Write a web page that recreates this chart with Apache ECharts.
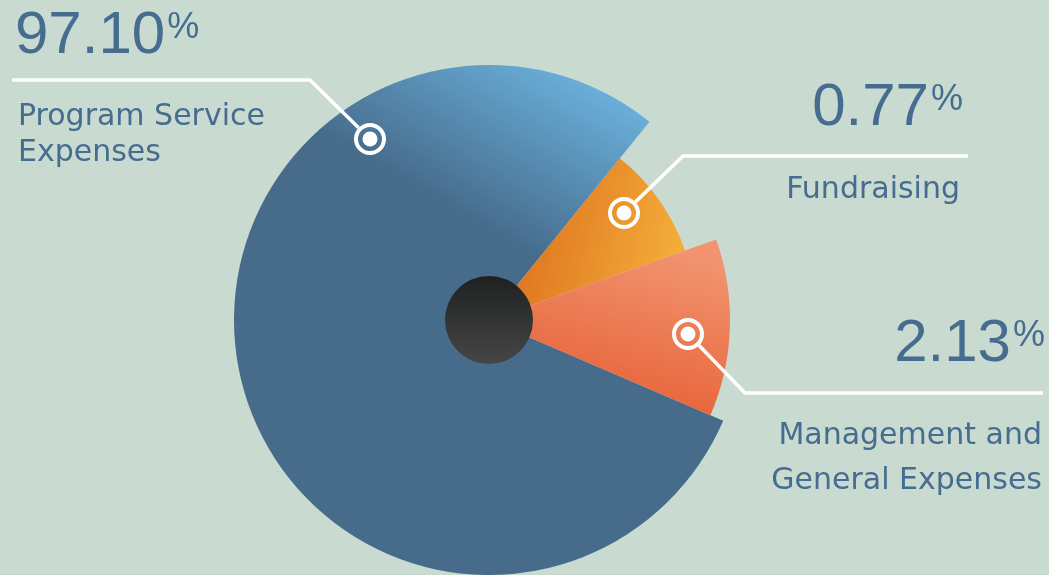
<!DOCTYPE html>
<html>
<head>
<meta charset="utf-8">
<script src="https://cdn.jsdelivr.net/npm/echarts@6/dist/echarts.min.js"></script>
<style>
  html, body { margin: 0; padding: 0; background: #c9dbd0; }
  #chart { width: 1049px; height: 575px; }
</style>
</head>
<body>
<div id="chart"></div>
<script>
// ---- data ----
const categories = ['Program Service Expenses', 'Fundraising', 'Management and General Expenses'];
const labelLines = [['Program Service', 'Expenses'], ['Fundraising'], ['Management and', 'General Expenses']];
const percentValues = [97.10, 0.77, 2.13];
// slice angles (degrees) as drawn in the source, which is not to scale
const drawnSweeps = [285.7, 31.5, 42.8];

// ---- layout / style (not data) ----
const CENTER = [489, 320];
const START_ANGLE = 51;
const drawOrder = [1, 2, 0];           // clockwise from START_ANGLE
const sliceRadius = [255, 208, 241];
const TEXT = '#466d8f';
const NUM_FONT = '60px "Liberation Sans", Arial, sans-serif';
const PCT_FONT = '36px "Liberation Sans", Arial, sans-serif';
const LABEL_FONT = '30px "DejaVu Sans", sans-serif';
const sliceColors = [
  new echarts.graphic.LinearGradient(440, 205, 545, 25, [
    { offset: 0, color: '#466b8b' }, { offset: 1, color: '#6fb9e6' }], true),
  new echarts.graphic.LinearGradient(0.15, 0.3, 1, 0.55, [
    { offset: 0, color: '#dd721f' }, { offset: 0.75, color: '#ef9f33' }, { offset: 1, color: '#f4ae3a' }]),
  new echarts.graphic.LinearGradient(0.6, 0, 0.4, 1, [
    { offset: 0, color: '#f1946f' }, { offset: 1, color: '#e65e33' }])
];
// pct: anchor x (left edge of number when align left, right edge of % sign when align right), digit centre y
const annot = [
  { pts: [[12, 80], [310, 80], [370, 139]], pct: { x: 15, y: 36, align: 'left' },
    label: { x: 18, y: 117, align: 'left', gap: 36 } },
  { pts: [[968, 156], [683, 156], [624, 213]], pct: { x: 963, y: 108, align: 'right' },
    label: { x: 960, y: 190, align: 'right', gap: 36 } },
  { pts: [[1043, 393], [745, 393], [688, 334]], pct: { x: 1045, y: 344, align: 'right' },
    label: { x: 1042, y: 436, align: 'right', gap: 45 } }
];

const measureCtx = document.createElement('canvas').getContext('2d');
function textWidth(t, font) { measureCtx.font = font; return measureCtx.measureText(t).width; }

const series = [0, 1, 2].map(k => ({
  type: 'pie',
  center: CENTER,
  radius: [0, sliceRadius[k]],
  startAngle: START_ANGLE,
  clockwise: true,
  silent: true,
  animation: false,
  label: { show: false },
  labelLine: { show: false },
  emphasis: { disabled: true },
  z: 2 + k,
  data: drawOrder.map(i => ({
    name: categories[i],
    value: drawnSweeps[i],
    itemStyle: { color: i === k ? sliceColors[k] : 'rgba(0,0,0,0)' }
  }))
}));

const graphics = [];
graphics.push({
  type: 'circle', z: 10, shape: { cx: CENTER[0], cy: CENTER[1], r: 44 },
  style: { fill: new echarts.graphic.LinearGradient(0, 0, 0, 1, [
    { offset: 0, color: '#1f2121' }, { offset: 1, color: '#464646' }]) }
});
annot.forEach((a, i) => {
  const pts = a.pts.map(p => p.slice());
  const m = pts[pts.length - 1];
  const prev = pts[pts.length - 2];
  const dx = m[0] - prev[0], dy = m[1] - prev[1];
  const len = Math.hypot(dx, dy);
  const ringR = 16;
  pts[pts.length - 1] = [m[0] - dx / len * ringR, m[1] - dy / len * ringR];
  graphics.push({ type: 'polyline', z: 20, shape: { points: pts },
    style: { stroke: '#ffffff', lineWidth: 3.5, fill: null } });
  graphics.push({ type: 'circle', z: 20, shape: { cx: m[0], cy: m[1], r: 14 },
    style: { fill: 'rgba(0,0,0,0)', stroke: '#ffffff', lineWidth: 4 } });
  graphics.push({ type: 'circle', z: 20, shape: { cx: m[0], cy: m[1], r: 7.5 },
    style: { fill: '#ffffff' } });

  const numText = percentValues[i].toFixed(2);
  const numW = textWidth(numText, NUM_FONT);
  const pctW = textWidth('%', PCT_FONT);
  let numLeft, pctLeft;
  if (a.pct.align === 'left') { numLeft = a.pct.x; pctLeft = numLeft + numW + 2; }
  else { pctLeft = a.pct.x - pctW; numLeft = pctLeft - 2 - numW; }
  graphics.push({ type: 'text', z: 20, x: numLeft, y: a.pct.y,
    style: { text: numText, fill: TEXT, font: NUM_FONT,
      textAlign: 'left', textVerticalAlign: 'middle' } });
  graphics.push({ type: 'text', z: 20, x: pctLeft, y: a.pct.y - 8,
    style: { text: '%', fill: TEXT, font: PCT_FONT,
      textAlign: 'left', textVerticalAlign: 'middle' } });
  labelLines[i].forEach((t, j) => {
    graphics.push({ type: 'text', z: 20, x: a.label.x, y: a.label.y + j * a.label.gap,
      style: { text: t, fill: TEXT, font: LABEL_FONT,
        textAlign: a.label.align, textVerticalAlign: 'middle' } });
  });
});

const chart = echarts.init(document.getElementById('chart'), null, { renderer: 'canvas' });
chart.setOption({
  backgroundColor: '#c9dbd0',
  animation: false,
  series: series,
  graphic: graphics
});
</script>
</body>
</html>
